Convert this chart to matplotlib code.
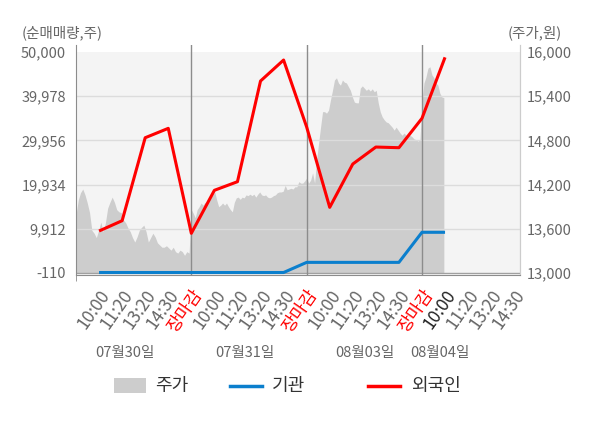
import matplotlib
matplotlib.use('Agg')
import matplotlib.pyplot as plt
import matplotlib.transforms as mtransforms
from matplotlib.patches import Rectangle
from matplotlib.lines import Line2D
import numpy as np

plt.rcParams['font.family'] = ['Noto Sans CJK KR', 'DejaVu Sans']

# x categories (one slot per label)
x_labels = ['10:00', '11:20', '13:20', '14:30', '장마감',
            '10:00', '11:20', '13:20', '14:30', '장마감',
            '10:00', '11:20', '13:20', '14:30', '장마감',
            '10:00', '11:20', '13:20', '14:30']
dates = ['07월30일', '07월31일', '08월03일', '08월04일']

# net buying (shares), one value per slot from the first 10:00
foreign = [9410, 11750, 30560, 32690, 8890, 18640, 20590, 43420, 48180,
           33000, 14780, 24600, 28450, 28300, 34960, 48790]
inst = [0, 0, 0, 0, 0, 0, 0, 0, 0,
        2300, 2300, 2300, 2300, 2300, 9120, 9120]

# intraday price (won), per day
price_d1 = [13790, 13990, 14090, 14140, 14060, 13950, 13820, 13580, 13540, 13480,
            13580, 13690, 13560, 13680, 13880, 13960, 14030, 13960, 13860, 13830,
            13820, 13720, 13680, 13610, 13560, 13480, 13420, 13490, 13580, 13620,
            13650, 13560, 13420, 13480, 13540, 13490, 13410, 13380, 13350, 13350,
            13370, 13340, 13310, 13350, 13290, 13270, 13310, 13290, 13240, 13290,
            13270]
price_d2 = [13860, 13810, 13750, 13860, 13900, 13950, 13920, 13960, 13950, 13990,
            14020, 14060, 14100, 13990, 13900, 13920, 13950, 13920, 13950, 13900,
            13860, 13830, 13960, 14020, 14030, 14000, 14030, 14020, 14060, 14050,
            14070, 14050, 14070, 14030, 14070, 14100, 14060, 14050, 14060, 14030,
            14020, 14030, 14050, 14060, 14090, 14100, 14100, 14110, 14190, 14130,
            14140, 14150, 14140, 14170, 14170, 14240, 14220, 14220, 14250]
price_d3 = [14290, 14220, 14260, 14360, 14220, 14530, 14760, 14980, 15190, 15190,
            15170, 15210, 15350, 15480, 15620, 15650, 15580, 15550, 15620, 15590,
            15580, 15530, 15480, 15390, 15320, 15310, 15310, 15510, 15540, 15510,
            15480, 15500, 15470, 15500, 15460, 15480, 15310, 15190, 15120, 15080,
            15050, 15040, 15010, 14980, 14940, 14980, 14940, 14900, 14870, 14900,
            14870, 14870, 14870, 14850, 14820, 14810, 14790, 14810]
price_d4 = [15310, 15580, 15660, 15780, 15800, 15690, 15650, 15580, 15550, 15440,
            15390, 15380]

vol_ticks = [-110, 9912, 19934, 29956, 39978, 50000]
price_ticks = [13000, 13600, 14200, 14800, 15400, 16000]

# x positions
px = np.concatenate([
    0 + np.arange(len(price_d1)) * 5 / len(price_d1),
    5 + np.arange(len(price_d2)) * 5 / len(price_d2),
    10 + np.arange(len(price_d3)) * 5 / len(price_d3),
    15 + np.arange(len(price_d4)) * 5 / len(price_d3),
])
price = np.array(price_d1 + price_d2 + price_d3 + price_d4)
lx = np.arange(1, len(foreign) + 1)

W, H = 600, 428
fig = plt.figure(figsize=(W / 100, H / 100), dpi=100)
ax = fig.add_axes([76 / W, 1 - 275 / H, 444 / W, 230 / H])
axp = ax.twinx()
ax.set_zorder(axp.get_zorder() + 1)
ax.patch.set_visible(False)

# limits (axes extends a bit above the 50,000 line)
vpp = (50000 + 110) / 221
ppp = 3000 / 221
ax.set_ylim(-110 - 2 * vpp, 50000 + 7 * vpp)
axp.set_ylim(13000 - 2 * ppp, 16000 + 7 * ppp)
ax.set_xlim(0, 19.25)

# background and price area
axp.axhspan(13000, 16000, color='#f4f4f4', lw=0, zorder=0)
axp.fill_between(px, 13000, price, color='#cdcdcd', lw=0, zorder=1)

# grid
for v in vol_ticks[1:-1]:
    ax.axhline(v, color='#dcdcdc', lw=1, zorder=1)
ax.axhline(-110, color='#a0a0a0', lw=1, zorder=1)
for d in [5, 10, 15]:
    ax.axvline(d, color='#8c8c8c', lw=1, zorder=1)

ax.plot(lx, inst, color='#0b7fcd', lw=2.2, zorder=3, solid_capstyle='butt')
ax.plot(lx, foreign, color='#ff0000', lw=2.2, zorder=4, solid_capstyle='butt')

# spines
for s in ['top']:
    ax.spines[s].set_visible(False)
    axp.spines[s].set_visible(False)
ax.spines['left'].set_color('#8c8c8c')
ax.spines['bottom'].set_color('#8c8c8c')
ax.spines['right'].set_color('#cccccc')
axp.spines['left'].set_visible(False)
axp.spines['bottom'].set_visible(False)
axp.spines['right'].set_color('#cccccc')

# y ticks
ax.set_yticks(vol_ticks)
ax.set_yticklabels([f"{v:,}" for v in vol_ticks])
ax.tick_params(axis='y', length=0, pad=7, labelsize=10.5, labelcolor='#666666')
axp.set_yticks(price_ticks)
axp.set_yticklabels([f"{v:,}" for v in price_ticks])
axp.tick_params(axis='y', length=0, pad=5, labelsize=10.5, labelcolor='#666666')

# x ticks
ax.set_xticks(np.arange(1, len(x_labels) + 1))
ax.set_xticklabels(x_labels, rotation=55, ha='right', va='top',
                   rotation_mode='anchor', fontsize=12.5)
ax.tick_params(axis='x', length=0, pad=8)
for i, t in enumerate(ax.get_xticklabels()):
    if x_labels[i] == '장마감':
        t.set_color('#ff0000')
    elif i == 15:
        t.set_color('#222222')
    else:
        t.set_color('#666666')
ax.set_xticks([0, 5, 10, 15], minor=True)
ax.tick_params(axis='x', which='minor', length=4, color='#8c8c8c')

# dates
trans = mtransforms.blended_transform_factory(ax.transData, fig.transFigure)
for xpos, d in zip([2.12, 7.33, 12.53, 15.78], dates):
    ax.text(xpos, 1 - 353 / H, d, transform=trans, ha='center', va='center',
            fontsize=10.5, color='#666666')

# axis titles
fig.text(22 / W, 1 - 33 / H, '(순매매량,주)', ha='left', va='center',
         fontsize=10.5, color='#666666')
fig.text(562 / W, 1 - 33 / H, '(주가,원)', ha='right', va='center',
         fontsize=10.5, color='#666666')

# legend
ly = 1 - 386 / H
fig.patches.append(Rectangle((114 / W, 1 - 393 / H), 32 / W, 15 / H,
                             transform=fig.transFigure, color='#cdcdcd', lw=0))
fig.text(155 / W, ly, '주가', ha='left', va='center', fontsize=13, color='#333333')
fig.lines.append(Line2D([230 / W, 262 / W], [ly, ly], transform=fig.transFigure,
                        color='#0b7fcd', lw=2.5))
fig.text(272 / W, ly, '기관', ha='left', va='center', fontsize=13, color='#333333')
fig.lines.append(Line2D([368 / W, 400 / W], [ly, ly], transform=fig.transFigure,
                        color='#ff0000', lw=2.5))
fig.text(411 / W, ly, '외국인', ha='left', va='center', fontsize=13, color='#333333')

fig.savefig('out.png', dpi=100)
